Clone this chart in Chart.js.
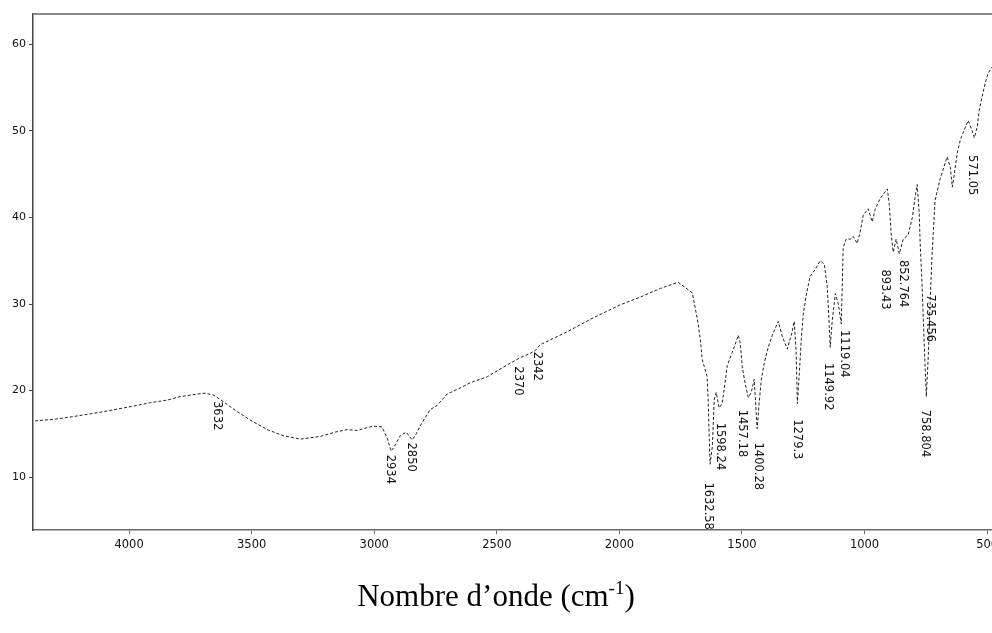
<!DOCTYPE html>
<html>
<head>
<meta charset="utf-8">
<script src="https://cdn.jsdelivr.net/npm/chart.js@4/dist/chart.umd.min.js"></script>
<style>
  html, body { margin: 0; padding: 0; background: #fff; overflow: hidden; }
  #wrap { position: relative; width: 1010px; height: 633px; }
  #title {
    position: absolute; left: 0; width: 992px; top: 576px;
    text-align: center; font-family: "Liberation Serif", "Times New Roman", serif;
    font-size: 31px; color: #000; line-height: 40px;
  }
  #title sup { font-size: 19px; vertical-align: 12px; line-height: 0; }
</style>
</head>
<body>
<div id="wrap">
  <canvas id="c" width="1010" height="633"></canvas>
  <div id="title">Nombre d’onde (cm<sup>-1</sup>)</div>
</div>
<script>
// Wavenumbers (cm-1)
const wavenumbers = [4384,4302,4228,4118,3984,3914,3845,3792,3723,3690,3657,3629,3576,3506,3437,3372,3302,3221,3160,3111,3070,3045,3004,2968,2947,2931,2919,2894,2870,2845,2829,2813,2772,2743,2703,2650,2609,2539,2474,2405,2364,2344,2323,2213,2107,1997,1915,1833,1793,1760,1731,1703,1691,1679,1670,1662,1654,1642,1638,1634,1630,1621,1613,1605,1593,1581,1572,1560,1540,1528,1515,1507,1499,1487,1474,1462,1450,1442,1438,1430,1421,1409,1393,1376,1364,1352,1336,1315,1295,1287,1279,1274,1266,1258,1250,1238,1222,1201,1181,1164,1152,1144,1140,1132,1119,1107,1095,1091,1087,1075,1058,1046,1030,1018,1005,985,969,956,936,907,899,891,883,871,858,842,822,805,793,785,777,773,765,756,748,740,732,724,712,691,671,663,650,642,634,622,609,589,577,561,552,540,532,520,508,495,479,462];
// Transmittance values (%)
const transmittance = [16.5,16.7,17.0,17.5,18.2,18.6,18.9,19.3,19.6,19.7,19.5,19.0,17.9,16.6,15.5,14.8,14.4,14.7,15.2,15.5,15.4,15.6,15.9,15.8,14.5,13.0,13.5,14.8,15.2,14.3,15.0,15.9,17.8,18.3,19.6,20.3,20.9,21.6,22.7,23.8,24.3,24.6,25.3,26.8,28.4,29.9,30.8,31.8,32.2,32.5,31.9,31.3,29.6,27.8,25.9,23.6,22.8,21.6,19.0,15.0,11.5,13.5,19.0,19.8,18.0,18.5,20.2,22.9,24.4,25.3,26.4,25.5,22.8,20.8,19.2,19.8,21.3,17.5,15.6,18.5,21.3,23.2,25.0,26.4,27.2,28.0,26.3,24.8,26.8,28.0,24.5,18.5,22.0,26.0,28.8,31.0,33.2,34.0,35.0,34.6,32.0,27.5,25.0,28.0,31.2,30.0,27.7,32.0,36.5,37.5,37.5,37.8,37.0,38.3,40.3,41.0,39.5,41.0,42.2,43.3,41.5,38.0,36.0,37.5,35.8,37.5,38.0,40.0,42.5,43.8,40.5,37.0,32.0,25.0,19.3,24.0,30.5,36.0,42.0,44.5,46.3,47.0,45.8,43.5,45.0,47.4,49.0,50.4,51.2,50.0,49.2,50.5,52.4,54.0,55.5,56.7,57.4,58.2];
// Peak annotations: text, wavenumber position, transmittance at label top
const peakTexts = ["3632","2934","2850","2370","2342","1632.58","1598.24","1457.18","1400.28","1279.3","1149.92","1119.04","893.43","852.764","735.456","758.804","571.05"];
const peakX =     [3641, 2935, 2849, 2413, 2335, 1638, 1589, 1499, 1434, 1275, 1148, 1083, 916, 842, 732, 752, 561];
const peakY =     [18.8, 12.6, 14.0, 22.8, 24.5, 9.4, 16.3, 17.8, 14.0, 16.7, 23.2, 27.0, 34.0, 35.1, 31.1, 17.8, 47.2];
// Axis ticks
const xTicks = [4000,3500,3000,2500,2000,1500,1000,500];
const yTicks = [10,20,30,40,50,60];

const points = wavenumbers.map((w, i) => ({ x: w, y: transmittance[i] }));

const peakLabelPlugin = {
  id: 'peakLabels',
  afterDatasetsDraw(chart) {
    const { ctx, scales: { x, y }, chartArea } = chart;
    ctx.save();
    ctx.fillStyle = '#111';
    ctx.font = '11.5px "DejaVu Sans", sans-serif';
    ctx.textAlign = 'left';
    ctx.textBaseline = 'middle';
    peakTexts.forEach((t, i) => {
      const px = x.getPixelForValue(peakX[i]);
      const py = y.getPixelForValue(peakY[i]);
      ctx.save();
      ctx.translate(px, py);
      ctx.rotate(Math.PI / 2);
      ctx.fillText(t, 0, 0);
      ctx.restore();
    });
    // top frame line
    ctx.strokeStyle = '#8a8a8a';
    ctx.lineWidth = 2;
    ctx.beginPath();
    ctx.moveTo(chartArea.left, chartArea.top);
    ctx.lineTo(chartArea.right + 10, chartArea.top);
    ctx.stroke();
    ctx.restore();
  }
};

new Chart(document.getElementById('c'), {
  type: 'line',
  data: {
    datasets: [{
      data: points,
      borderColor: '#222',
      borderWidth: 1,
      borderDash: [3, 2],
      pointRadius: 0,
      tension: 0,
      fill: false
    }]
  },
  options: {
    responsive: false,
    animation: false,
    events: [],
    layout: { padding: { left: 0, right: 5, top: 14, bottom: 63 } },
    plugins: { legend: { display: false }, tooltip: { enabled: false }, title: { display: false } },
    scales: {
      x: {
        type: 'linear',
        reverse: true,
        min: 427,
        max: 4392,
        afterFit(s) { s.height = 40; },
        afterBuildTicks(s) { s.ticks = xTicks.map(v => ({ value: v })); },
        grid: { display: true, drawOnChartArea: false, drawTicks: true, tickLength: 4, color: '#666', lineWidth: 1 },
        border: { display: true, color: '#6a6a6a', width: 1.5 },
        ticks: {
          color: '#111', padding: 4, maxRotation: 0, autoSkip: false,
          font: { family: '"DejaVu Sans", sans-serif', size: 11.5 },
          callback: v => String(v)
        }
      },
      y: {
        type: 'linear',
        min: 3.9,
        max: 63.5,
        afterFit(s) { s.width = 33; },
        afterBuildTicks(s) { s.ticks = yTicks.map(v => ({ value: v })); },
        grid: { display: true, drawOnChartArea: false, drawTicks: true, tickLength: 4, color: '#444', lineWidth: 1 },
        border: { display: true, color: '#444', width: 1.5 },
        ticks: {
          color: '#111', padding: 3, autoSkip: false,
          font: { family: '"DejaVu Sans", sans-serif', size: 11 },
          callback: v => String(v)
        }
      }
    }
  },
  plugins: [peakLabelPlugin]
});
</script>
</body>
</html>
